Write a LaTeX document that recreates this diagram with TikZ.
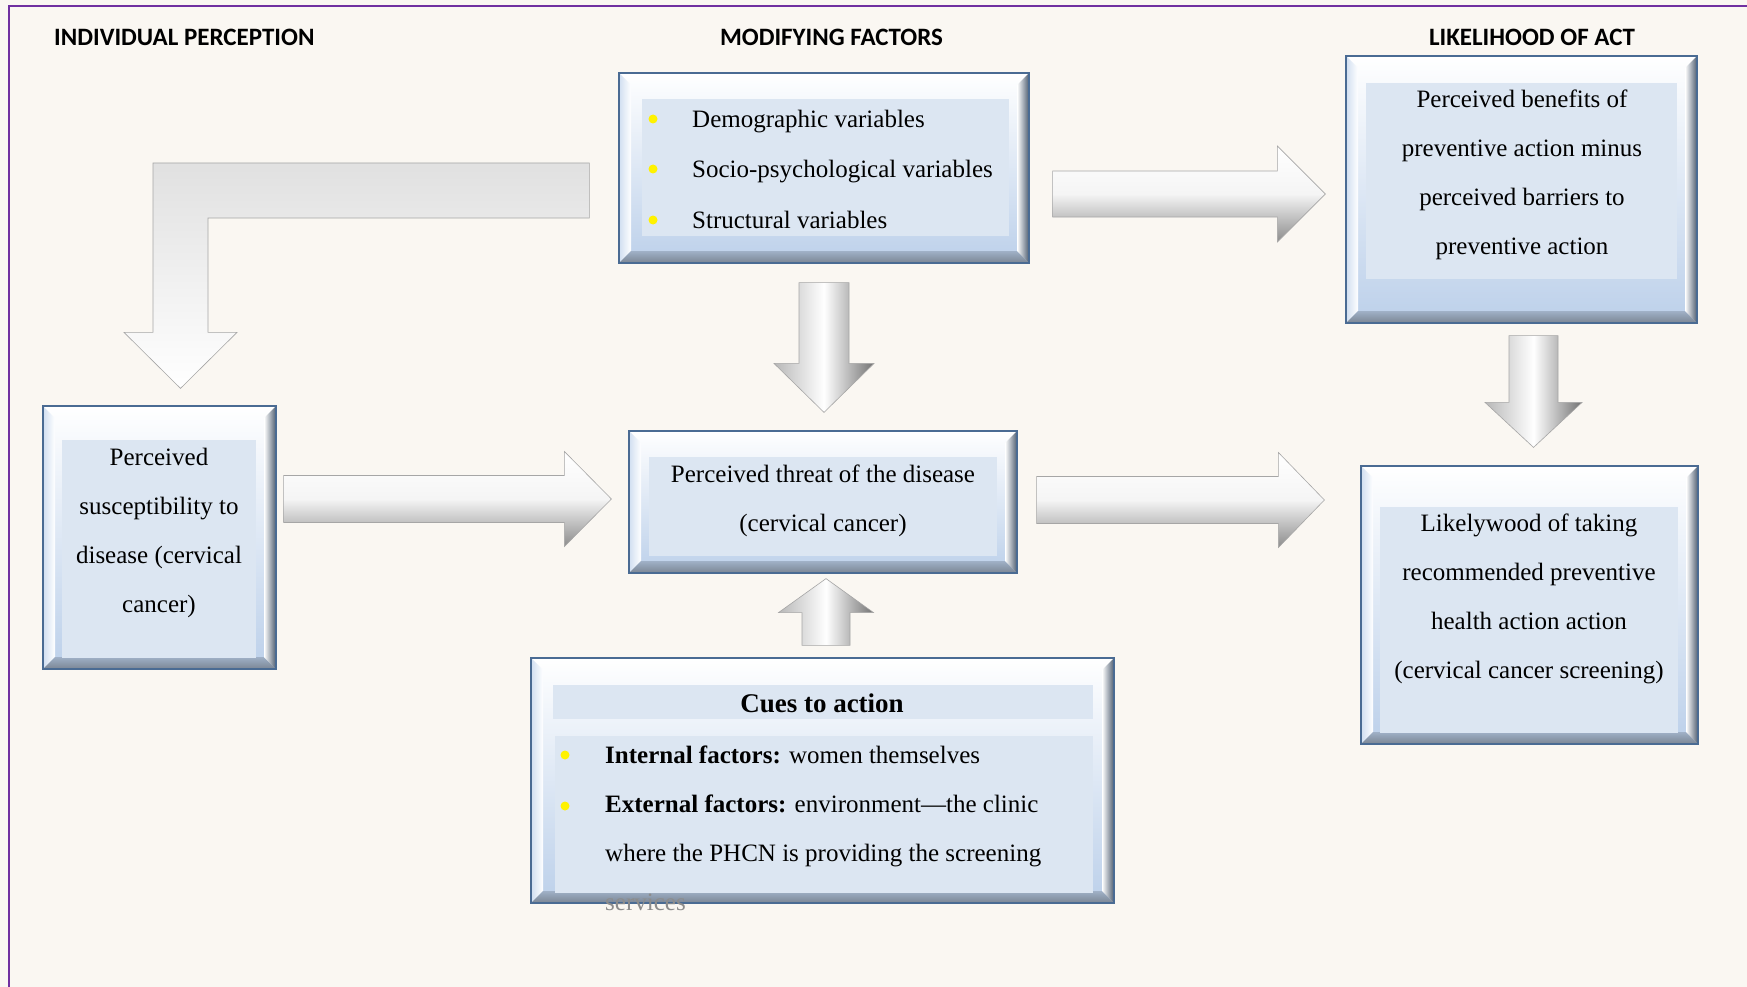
\documentclass[tikz,border=0pt]{standalone}
\usepackage{fontspec}
\setmainfont{Liberation Serif}
\newfontfamily\headfont{Carlito}
\usetikzlibrary{calc}

\definecolor{paper}{HTML}{FAF7F2}
\definecolor{edgepurple}{HTML}{7030A0}
\definecolor{framecol}{HTML}{4A6B93}
\definecolor{framebot}{HTML}{BCD0EA}
\definecolor{bevdark}{HTML}{4E5D70}
\definecolor{panelblue}{HTML}{DCE6F2}
\definecolor{dotyellow}{HTML}{FFF200}

\newcommand\bodyfont{\fontsize{25}{49}\selectfont}
% block arrow: style, tail, tip, half shaft, half head, head length
\newcommand\blockarrow[6]{%
  \coordinate (neck) at ($(#3)!#6pt!(#2)$);
  \path[#1] ($(#2)!#4pt!90:(#3)$) -- ($(neck)!#4pt!90:(#3)$) -- ($(neck)!#5pt!90:(#3)$) -- (#3)
     -- ($(neck)!#5pt!-90:(#3)$) -- ($(neck)!#4pt!-90:(#3)$) -- ($(#2)!#4pt!-90:(#3)$) -- cycle;
}

\tikzset{
  frame/.style={draw=framecol, line width=1.2pt, top color=white, bottom color=framebot,
    path picture={
      \coordinate (fne) at (path picture bounding box.north east);
      \coordinate (fse) at (path picture bounding box.south east);
      \coordinate (fsw) at (path picture bounding box.south west);
      \coordinate (fnw) at (path picture bounding box.north west);
      \shade[left color=framebot!70, right color=white] (fnw) -- ([shift={(12pt,-12pt)}]fnw) -- ([shift={(12pt,12pt)}]fsw) -- (fsw) -- cycle;
      \shade[top color=framebot!85!black, bottom color=bevdark!75] (fsw) -- ([shift={(12pt,12pt)}]fsw) -- ([shift={(-12pt,12pt)}]fse) -- (fse) -- cycle;
      \shade[left color=white, right color=bevdark] ([shift={(-12pt,-12pt)}]fne) -- (fne) -- (fse) -- ([shift={(-12pt,12pt)}]fse) -- cycle;
    }},
  harrow/.style={draw=black!35, line width=0.6pt, top color=white, bottom color=black!45, middle color=black!4},
  varrow/.style={draw=black!35, line width=0.6pt, left color=black!28, right color=black!55, middle color=white},
  heading/.style={font=\headfont\bfseries\fontsize{25}{30}\selectfont},
}

\begin{document}
\begin{tikzpicture}[x=1pt,y=-1pt, every node/.style={font=\bodyfont, inner sep=0pt}]
\useasboundingbox (0,0) rectangle (1747,987);
\fill[paper] (0,0) rectangle (1747,987);
\draw[edgepurple, line width=2pt] (9,987) -- (9,6) -- (1747,6);

% column headings
\node[heading, anchor=west] (h-indiv) at (54,37) {INDIVIDUAL PERCEPTION};
\node[heading] (h-modif) at (831.5,37) {MODIFYING FACTORS};
\node[heading] (h-likely) at (1532,37) {LIKELIHOOD OF ACT};

% frames
\node[frame, minimum width=233, minimum height=263] (suscept) at (159.5,537.5) {};
\node[frame, minimum width=388, minimum height=142] (threat) at (823,502) {};
\node[frame, minimum width=410, minimum height=190] (modif) at (824,168) {};
\node[frame, minimum width=351, minimum height=267] (benefit) at (1521.5,189.5) {};
\node[frame, minimum width=337, minimum height=278] (action) at (1529.5,605) {};
\node[frame, minimum width=583, minimum height=245] (cues) at (822.5,780.5) {};

% text panels
\fill[panelblue] (62,440) rectangle (256,658);
\fill[panelblue] (649,457) rectangle (997,556);
\fill[panelblue] (642,99) rectangle (1009,236);
\fill[panelblue] (1366,83) rectangle (1677,279);
\fill[panelblue] (1380,507) rectangle (1678,733);
\fill[panelblue] (553,685) rectangle (1093,719);
\fill[panelblue] (555,736) rectangle (1093,893);

% texts
\node[align=center] (suscept-txt) at (159,532.5) {Perceived\\susceptibility to\\disease (cervical\\cancer)};
\node[align=center] (threat-txt) at (823,501) {Perceived threat of the disease\\(cervical cancer)};
\node[align=left, anchor=west, font=\fontsize{25}{50.5}\selectfont] (modif-txt) at (692,169) {Demographic variables\\Socio-psychological variables\\Structural variables};
\node[align=center] (benefit-txt) at (1522,175) {Perceived benefits of\\preventive action minus\\perceived barriers to\\preventive action};
\node[align=center] (action-txt) at (1529,599) {Likelywood of taking\\recommended preventive\\health action action\\(cervical cancer screening)};
\node[font=\fontsize{27}{30}\selectfont\bfseries] (cues-head) at (822,703) {Cues to action};
\node[align=left, anchor=west] (cues-txt) at (605,828) {\textbf{Internal factors:} women themselves\\\textbf{External factors:} environment---the clinic\\where the PHCN is providing the screening\\\textcolor{black!45}{services}};

% bullets
\foreach \y in {119,169,220}
  \fill[dotyellow] (653,\y) circle (4.5);
\foreach \y in {755,806}
  \fill[dotyellow] (565,\y) circle (4.5);

% arrow ends
\coordinate (s2t-a) at ($(suscept.east)+(7,-38.5)$);
\coordinate (s2t-b) at ($(threat.west)+(-17,-3)$);
\coordinate (t2a-a) at ($(threat.east)+(19,-2)$);
\coordinate (t2a-b) at ($(action.west)+(-36,-105)$);
\coordinate (m2b-a) at ($(modif.east)+(23,26)$);
\coordinate (m2b-b) at ($(benefit.west)+(-20,4.5)$);
\coordinate (m2t-a) at ($(modif.south)+(0,19)$);
\coordinate (m2t-b) at ($(threat.north)+(1,-18)$);
\coordinate (b2a-a) at ($(benefit.south)+(12,12)$);
\coordinate (b2a-b) at ($(action.north)+(4,-18)$);
\coordinate (c2t-a) at ($(cues.north)+(3.5,-12)$);
\coordinate (c2t-b) at ($(threat.south)+(3,5)$);
\coordinate (m2s-a) at ($(modif.west)+(-29,22.5)$);
\coordinate (m2s-b) at ($(suscept.north)+(21,-17)$);

% block arrows
\blockarrow{harrow}{s2t-a}{s2t-b}{23.5}{47.5}{47}
\blockarrow{harrow}{t2a-a}{t2a-b}{23.5}{47.5}{46}
\blockarrow{harrow}{m2b-a}{m2b-b}{23}{48}{48}
\blockarrow{varrow}{m2t-a}{m2t-b}{25}{50}{49}
\blockarrow{varrow}{b2a-a}{b2a-b}{24.5}{48.5}{45}
\blockarrow{varrow}{c2t-a}{c2t-b}{24}{47.5}{34}
\path[draw=black!35, line width=0.6pt, top color=black!12, bottom color=white]
  let \p1=(m2s-a), \p2=(m2s-b) in
  (\x1,\y1+27.5pt) -- (\x2-27.5pt,\y1+27.5pt) -- (\x2-27.5pt,\y2+56pt) -- (\x2-56.5pt,\y2+56pt)
  -- (\x2,\y2) -- (\x2+56.5pt,\y2+56pt) -- (\x2+27.5pt,\y2+56pt) -- (\x2+27.5pt,\y1-27.5pt)
  -- (\x1,\y1-27.5pt) -- cycle;
\end{tikzpicture}
\end{document}
